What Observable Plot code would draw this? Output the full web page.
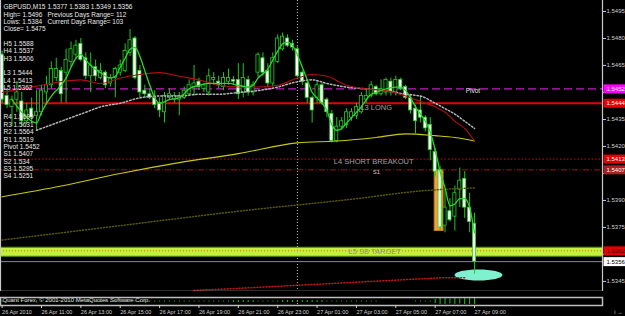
<!DOCTYPE html>
<html>
<head>
<meta charset="utf-8">
<script src="https://cdn.jsdelivr.net/npm/d3@7"></script>
<script src="https://cdn.jsdelivr.net/npm/@observablehq/plot@0.6"></script>
<style>
  html, body { margin: 0; padding: 0; background: #000; }
  #chart { width: 625px; height: 316px; background: #000; overflow: hidden; }
  #chart svg { display: block; }
</style>
</head>
<body>
<div id="chart"></div>
<script>
// ---------- DATA ----------
const symbolTitle = "GBPUSD,M15";
const lastBarOHLC = ["1.5377", "1.5383", "1.5349", "1.5356"];
const dayStats = ["High= 1.5496", "Lows: 1.5384", "Close= 1.5475"];
const dayRanges = ["Previous Days Range= 112", "Current Days Range= 103"];
const camHighNames = ["H5", "H4", "H3"];
const camHighVals = ["1.5588", "1.5537", "1.5506"];
const camLowNames = ["L3", "L4", "L5"];
const camLowVals = ["1.5444", "1.5413", "1.5362"];
const pivNames = ["R4", "R3", "R2", "R1", "Pivot", "S1", "S2", "S3", "S4"];
const pivVals = ["1.5699", "1.5631", "1.5564", "1.5519", "1.5452", "1.5407", "1.534", "1.5295", "1.5251"];
const copyright = "Quant Forex, \u00A9 2001-2010 MetaQuotes Software Corp.";

// M15 candles, 26 Apr 2010 09:00 .. 27 Apr 2010 09:00 (bar index 0..96)
const opens = [1.5471,1.5448,1.5442,1.5446,1.5445,1.5434,1.5441,1.5437,1.5439,1.5450,
1.5454,1.5458,1.5462,1.5461,1.5467,1.5471,1.5477,1.5469,1.5459,1.5464,
1.5458,1.5461,1.5455,1.5458,1.5461,1.5462,1.5472,1.5480,1.5462,1.5451,
1.5449,1.5447,1.5444,1.5439,1.5447,1.5446,1.5446,1.5447,1.5449,1.5453,
1.5456,1.5452,1.5450,1.5457,1.5456,1.5453,1.5456,1.5457,1.5457,1.5450,
1.5457,1.5450,1.5461,1.5469,1.5462,1.5455,1.5467,1.5474,1.5480,1.5477,
1.5474,1.5461,1.5455,1.5447,1.5447,1.5454,1.5446,1.5438,1.5423,1.5431,
1.5432,1.5436,1.5437,1.5439,1.5446,1.5448,1.5453,1.5449,1.5450,1.5456,
1.5450,1.5457,1.5453,1.5447,1.5441,1.5440,1.5436,1.5432,1.5417,1.5407,
1.5376,1.5384,1.5381,1.5396,1.5402,1.5386,1.5377];
const highs = [1.5473,1.5452,1.5448,1.5456,1.5450,1.5444,1.5447,1.5451,1.5454,1.5459,
1.5467,1.5469,1.5464,1.5474,1.5478,1.5479,1.5480,1.5472,1.5472,1.5468,
1.5466,1.5462,1.5460,1.5464,1.5468,1.5477,1.5485,1.5481,1.5465,1.5454,
1.5452,1.5451,1.5447,1.5450,1.5452,1.5450,1.5450,1.5453,1.5457,1.5465,
1.5458,1.5455,1.5463,1.5461,1.5459,1.5461,1.5463,1.5459,1.5466,1.5466,
1.5459,1.5456,1.5472,1.5472,1.5466,1.5472,1.5482,1.5483,1.5482,1.5479,
1.5476,1.5462,1.5457,1.5448,1.5456,1.5455,1.5447,1.5440,1.5436,1.5436,
1.5441,1.5441,1.5444,1.5450,1.5452,1.5456,1.5454,1.5457,1.5458,1.5458,
1.5459,1.5458,1.5454,1.5449,1.5443,1.5448,1.5437,1.5436,1.5419,1.5409,
1.5396,1.5391,1.5398,1.5408,1.5406,1.5394,1.5383];
const lows = [1.5444,1.5441,1.5431,1.5439,1.5431,1.5432,1.5433,1.5429,1.5437,1.5443,
1.5452,1.5456,1.5444,1.5444,1.5464,1.5469,1.5467,1.5457,1.5450,1.5456,
1.5457,1.5452,1.5453,1.5447,1.5459,1.5461,1.5470,1.5457,1.5447,1.5447,
1.5446,1.5441,1.5436,1.5433,1.5446,1.5444,1.5437,1.5446,1.5448,1.5448,
1.5451,1.5450,1.5448,1.5454,1.5452,1.5451,1.5454,1.5454,1.5446,1.5447,
1.5448,1.5448,1.5458,1.5459,1.5453,1.5453,1.5466,1.5473,1.5475,1.5473,
1.5458,1.5454,1.5444,1.5433,1.5444,1.5443,1.5436,1.5422,1.5422,1.5429,
1.5430,1.5434,1.5435,1.5438,1.5444,1.5447,1.5448,1.5448,1.5448,1.5448,
1.5448,1.5451,1.5446,1.5438,1.5427,1.5433,1.5428,1.5412,1.5403,1.5373,
1.5372,1.5378,1.5373,1.5386,1.5380,1.5372,1.5349];
const closes = [1.5446,1.5443,1.5446,1.5450,1.5434,1.5440,1.5436,1.5439,1.5451,1.5454,
1.5463,1.5463,1.5449,1.5468,1.5474,1.5476,1.5468,1.5459,1.5465,1.5459,
1.5462,1.5454,1.5458,1.5463,1.5465,1.5473,1.5479,1.5458,1.5450,1.5449,
1.5447,1.5443,1.5440,1.5448,1.5449,1.5448,1.5448,1.5451,1.5454,1.5455,
1.5453,1.5454,1.5459,1.5458,1.5454,1.5458,1.5458,1.5456,1.5449,1.5458,
1.5450,1.5454,1.5471,1.5461,1.5455,1.5469,1.5480,1.5481,1.5476,1.5475,
1.5459,1.5456,1.5447,1.5440,1.5454,1.5444,1.5439,1.5423,1.5431,1.5434,
1.5439,1.5439,1.5442,1.5448,1.5448,1.5454,1.5449,1.5452,1.5457,1.5450,
1.5457,1.5452,1.5447,1.5440,1.5434,1.5436,1.5430,1.5418,1.5406,1.5375,
1.5386,1.5379,1.5394,1.5401,1.5386,1.5378,1.5356];

// fast green MA (bar index, price)
const fastBars = [2,4,6,7,8,10,12,13,14,15,16,17,18,20,22,23,24,25,26,27,28,29,30,31,32,34,36,38,40,42,44,46,48,50,51,52,54,55,56,57,58,59,60,61,62,63,64,65,66,67,68,69,70,71,72,73,74,75,76,78,80,81,82,83,84,85,86,87,88,89,90,91,92,93,94,95,96];
const fastVals = [1.5446,1.5439,1.5434,1.5433,1.5439,1.5448,1.5454,1.5458,1.5464,1.5469,1.5471,1.5468,1.5465,
1.5461,1.5458,1.5459,1.5464,1.5469,1.5474,1.5475,1.5470,1.5462,1.5454,1.5447,1.5444,
1.5446,1.5447,1.5452,1.5454,1.5455,1.5455,1.5455,1.5454,1.5453,1.5454,1.5458,
1.5463,1.5468,1.5473,1.5477,1.5478,1.5476,1.5471,1.5464,1.5457,1.5450,1.5447,1.5444,1.5440,1.5432,1.5429,1.5430,1.5433,1.5436,1.5439,1.5442,1.5446,1.5449,1.5450,
1.5452,1.5453,1.5453,1.5451,1.5447,1.5442,1.5438,1.5434,1.5428,1.5418,1.5406,1.5397,1.5387,1.5388,1.5391,1.5391,1.5386,1.5372];
// dark red MA
const redBars = [0,4,8,12,16,20,24,28,32,36,40,44,48,52,56,60,63,66,70,74,78,82,85,88,90,92,94,96];
const redVals = [1.5450,1.5452,1.5454,1.5456,1.5457,1.5455,1.5458,1.5460,1.5461,1.5459,1.5457,1.5454,1.5453,1.5453,1.5454,1.5458,1.5460,1.5459,1.5454,1.5452,1.5451,1.5448,1.5445,1.5442,1.5439,1.5434,1.5430,1.5423];
// grey dotted MA
const greyBars = [7,10,14,17,20,24,28,32,36,40,44,48,52,56,60,63,66,70,74,78,82,85,88,90,92,94,96];
const greyVals = [1.5429,1.5432,1.5436,1.5439,1.5442,1.5444,1.5447,1.5448,1.5448,1.5449,1.5449,1.5450,1.5451,1.5453,1.5456,1.5457,1.5455,1.5453,1.5452,1.5451,1.5449,1.5448,1.5444,1.5441,1.5438,1.5434,1.5430];
// yellow MA
const yellowBars = [0,12,24,36,48,60,68,76,82,88,92,96];
const yellowVals = [1.5392,1.5398,1.5405,1.5411,1.5416,1.5422,1.5423,1.5425,1.5427,1.5426,1.5425,1.5423];
// olive dotted MA
const oliveBars = [0,24,48,72,84,96];
const oliveVals = [1.5368,1.5376,1.5384,1.5391,1.5395,1.5397];
// red dotted line near the bottom
const lowRedBars = [39,47,54,61,68,75,82,89,94];
const lowRedVals = [1.5340,1.5341,1.5342,1.5343,1.5344,1.5345,1.5346,1.5347,1.5347];

// horizontal levels
const levelNames = ["Pivot", "L3", "L4", "S1", "L5", "Bid"];
const levelVals = [1.5452, 1.5444, 1.5413, 1.5407, 1.5362, 1.5356];
const l5Zone = [1.5359, 1.5364];

// chart objects
const annoLabels = ["Pivot", "L3 LONG", "L4 SHORT BREAKOUT", "S1", "L5 SB TARGET"];
const annoBars = [94.2, 72.8, 67.4, 75.3, 70.4];
const annoPrices = [1.5452, 1.5443, 1.5413, 1.5407, 1.5363];
const boxBars = [87.9, 89.7];
const boxPrices = [1.5373, 1.5407];
const ellipseBar = [96.8];
const ellipsePrice = [1.53486];
const daySeparators = [60];

// sub-window histogram
const subVals = [1,1,1,1,1,1,1,1,1,1, 1,1,1,1,1,1,1,1,1,1, 1,1,1,1,1,1,1,1,1,1,
1,1,1,1,1,1,1,1,1,1, 1,1,1,1,1,1,1,2,2,2, 2,2,1,1,1,1,1,2,2,2,
2,2,2,2,2,2,1,1,1,1, 1,1,1,1,1,1,1,0,0,0, 0,0,0,0,1,1,1,1,4,6, 6,5,6,5,6,6,6];

// axes
const priceTicks = [1.5495,1.5480,1.5465,1.5450,1.5435,1.5420,1.5405,1.5390,1.5375,1.5360,1.5345];
const timeTickBars = [0,8,16,24,32,40,48,56,64,72,80,88,96];
const timeTickLabels = ["26 Apr 2010","26 Apr 11:00","26 Apr 13:00","26 Apr 15:00","26 Apr 17:00","26 Apr 19:00","26 Apr 21:00","26 Apr 23:00","27 Apr 01:00","27 Apr 03:00","27 Apr 05:00","27 Apr 07:00","27 Apr 09:00"];

// ---------- BUILD ----------
const FONT = "'Liberation Sans', Arial, sans-serif";
const xDomain = [-0.33, 122.0];
const yDomain = [1.53394, 1.55011];
const bars = opens.map((o, i) => ({i, o, h: highs[i], l: lows[i], c: closes[i]}));
const zip = (xs, vs) => xs.map((x, k) => ({i: x, v: vs[k]}));
const lvl = name => levelVals[levelNames.indexOf(name)];

const leftText = [
  symbolTitle, ...dayStats, "",
  ...camHighNames.map((n, k) => n + " " + camHighVals[k]), "",
  ...camLowNames.map((n, k) => n + " " + camLowVals[k]), "", "", "",
  ...pivNames.map((n, k) => n + " " + pivVals[k])
].join("\n");
const rightText = [lastBarOHLC.join(" "), ...dayRanges].join("\n");

const annos = annoLabels.map((t, k) => ({t, i: annoBars[k], v: annoPrices[k]}));
const annoStyle = {
  "Pivot": {fill: "#e6e6e6", size: 6.5},
  "L3 LONG": {fill: "#a0a0a0", size: 7.5},
  "L4 SHORT BREAKOUT": {fill: "#a0a0a0", size: 7.5},
  "S1": {fill: "#c8c8c8", size: 6},
  "L5 SB TARGET": {fill: "#8c8c8c", size: 7.5}
};
const boxStyle = {
  "Pivot": {bg: "#ff00ff", fg: "#ffffff"},
  "L3": {bg: "#e80000", fg: "#ffffff"},
  "L4": {bg: "#e00000", fg: "#ffffff"},
  "S1": {bg: "#a82020", fg: "#ffffff"},
  "L5": {bg: "#e40000", fg: "#300000"},
  "Bid": {bg: "#ffffff", fg: "#000000"}
};
const priceBoxes = levelNames.map((n, k) => ({n, v: levelVals[k]}));
// axis labels hidden under a price box
const coveredTick = t => levelVals.some(v => Math.abs(v - t) < 0.00035);

const ellipseSym = {draw(ctx) {
  const rx = 24, ry = 5.5, k = 0.5523;
  ctx.moveTo(rx, 0);
  ctx.bezierCurveTo(rx, ry * k, rx * k, ry, 0, ry);
  ctx.bezierCurveTo(-rx * k, ry, -rx, ry * k, -rx, 0);
  ctx.bezierCurveTo(-rx, -ry * k, -rx * k, -ry, 0, -ry);
  ctx.bezierCurveTo(rx * k, -ry, rx, -ry * k, rx, 0);
  ctx.closePath();
}};
const boxSym = {draw(ctx) { ctx.rect(-11, -4.5, 22, 9); }};

const fmt4 = d3.format(".4f");

const main = Plot.plot({
  width: 625, height: 291,
  marginTop: 0, marginRight: 23, marginBottom: 0, marginLeft: 0,
  x: {domain: xDomain, axis: null},
  y: {domain: yDomain, axis: null},
  style: {background: "#000", color: "#d0d0d0", fontFamily: FONT, fontSize: "6px"},
  marks: [
    // L5 target zone
    Plot.ruleY([d3.mean(l5Zone)], {stroke: "#c4f23c", strokeWidth: 9}),
    Plot.ruleY(l5Zone, {stroke: "#4f8f16", strokeWidth: 1}),
    Plot.ruleY([lvl("L5")], {stroke: "#e8641e", strokeDasharray: "1,2"}),
    // orange rectangle object
    Plot.rect([{x1: boxBars[0], x2: boxBars[1], y1: boxPrices[0], y2: boxPrices[1]}],
      {x1: "x1", x2: "x2", y1: "y1", y2: "y2", fill: "#f0a23a", stroke: "#c87a18"}),
    // ellipse object
    Plot.dot(zip(ellipseBar, ellipsePrice), {x: "i", y: "v", symbol: ellipseSym, fill: "#7ef2cf", stroke: "none"}),
    // day separator
    Plot.ruleX(daySeparators, {stroke: "#b8b8b8", strokeDasharray: "1,2"}),
    // level lines
    Plot.ruleY([lvl("Pivot")], {stroke: "#c21ec2", strokeWidth: 1.2, strokeDasharray: "8,4"}),
    Plot.ruleY([lvl("L3")], {stroke: "#e60000", strokeWidth: 2}),
    Plot.ruleY([lvl("L4")], {stroke: "#e00000", strokeDasharray: "1.5,2"}),
    Plot.ruleY([lvl("S1")], {stroke: "#9c1414", strokeDasharray: "6,2,1,2"}),
    Plot.ruleY([lvl("Bid")], {stroke: "#8a8a8a"}),
    // candles
    Plot.ruleX(bars, {x: "i", y1: "l", y2: "h", stroke: "#1ec81e", strokeWidth: 1}),
    Plot.rect(bars, {x1: d => d.i - 0.32, x2: d => d.i + 0.32, y1: "o", y2: "c",
      fill: d => d.c < d.o ? "#ffffff" : "#000000", stroke: "#1ed21e", strokeWidth: 0.8}),
    // moving averages
    Plot.line(zip(oliveBars, oliveVals), {x: "i", y: "v", stroke: "#55550e", strokeDasharray: "1,2", curve: "monotone-x"}),
    Plot.line(zip(yellowBars, yellowVals), {x: "i", y: "v", stroke: "#c8c814", strokeWidth: 1.1, curve: "monotone-x"}),
    Plot.line(zip(greyBars, greyVals), {x: "i", y: "v", stroke: "#b4b4b4", strokeDasharray: "1.5,2", curve: "monotone-x"}),
    Plot.line(zip(redBars, redVals), {x: "i", y: "v", stroke: "#b01010", strokeWidth: 1.1, curve: "monotone-x"}),
    Plot.line(zip(lowRedBars, lowRedVals), {x: "i", y: "v", stroke: "#c41818", strokeDasharray: "1,2", clip: true}),
    Plot.line(zip(fastBars, fastVals), {x: "i", y: "v", stroke: "#2ad82a", strokeWidth: 1.3, curve: "monotone-x"}),
    // chart text objects
    Plot.text(annos, {x: "i", y: "v", text: "t", textAnchor: "start", lineAnchor: "top",
      fill: d => annoStyle[d.t].fill, fontSize: d => annoStyle[d.t].size}),
    // comment block
    Plot.text([leftText], {frameAnchor: "top-left", dx: 3, dy: 3.5, textAnchor: "start", lineAnchor: "top",
      lineHeight: 1.131, fontSize: 6.5, fill: "#e8e8e8"}),
    Plot.text([rightText], {frameAnchor: "top-left", dx: 47, dy: 3.5, textAnchor: "start", lineAnchor: "top",
      lineHeight: 1.131, fontSize: 6.5, fill: "#e8e8e8"}),
    // price axis
    Plot.axisY({anchor: "right", ticks: priceTicks, tickFormat: d => coveredTick(d) ? "" : fmt4(d),
      tickSize: 3, tickPadding: 1, fontSize: 6}),
    Plot.dot(priceBoxes, {y: "v", frameAnchor: "right", dx: 12, symbol: boxSym, fill: d => boxStyle[d.n].bg, stroke: "none"}),
    Plot.text(priceBoxes, {y: "v", frameAnchor: "right", dx: 4, textAnchor: "start", text: d => fmt4(d.v),
      fill: d => boxStyle[d.n].fg, fontSize: 6}),
    // frame
    Plot.frame({anchor: "left", stroke: "#c8c8c8", strokeWidth: 1.2}),
    Plot.frame({anchor: "right", stroke: "#c8c8c8", strokeWidth: 1.2}),
    Plot.frame({anchor: "bottom", stroke: "#bdbdbd", strokeWidth: 1.5})
  ]
});

const sub = Plot.plot({
  width: 625, height: 25,
  marginTop: 6, marginRight: 23, marginBottom: 11, marginLeft: 0,
  x: {domain: xDomain, axis: null},
  y: {domain: [-4, 4], axis: null},
  style: {background: "#000", color: "#d0d0d0", fontFamily: FONT, fontSize: "6px"},
  marks: [
    Plot.ruleX(daySeparators, {stroke: "#b8b8b8", strokeDasharray: "1,2"}),
    Plot.ruleX(subVals.map((v, i) => ({i, v})).filter(d => d.v > 0),
      {x: "i", y1: d => -d.v / 2, y2: d => d.v / 2, stroke: "#14c814", strokeWidth: 1}),
    Plot.text([copyright], {frameAnchor: "top-left", dx: 2, dy: 0.5, textAnchor: "start", lineAnchor: "top",
      fontSize: 6, fill: "#e0e0e0"}),
    Plot.frame({stroke: "#bdbdbd", strokeWidth: 1.5}),
    Plot.axisX({anchor: "bottom", ticks: timeTickBars, tickFormat: d => timeTickLabels[timeTickBars.indexOf(d)],
      tickSize: 3, tickPadding: 2, fontSize: 5.5, textAnchor: "start"})
  ]
});

const host = document.getElementById("chart");
host.appendChild(main);
host.appendChild(sub);
</script>
</body>
</html>
